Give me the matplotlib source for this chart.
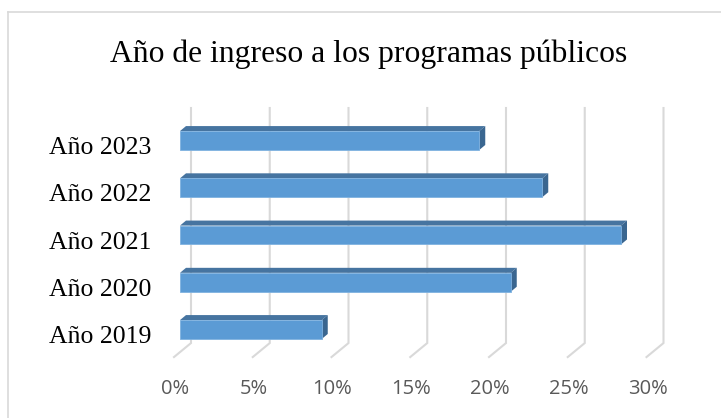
import matplotlib
matplotlib.use('Agg')
import matplotlib.pyplot as plt
from matplotlib.patches import Polygon
from matplotlib.lines import Line2D
import matplotlib.transforms as mtransforms
import numpy as np

# datos
categorias = ['Año 2019', 'Año 2020', 'Año 2021', 'Año 2022', 'Año 2023']
porcentajes = [9, 21, 28, 23, 19]
ticks_x = [0, 5, 10, 15, 20, 25, 30]
titulo = 'Año de ingreso a los programas públicos'

W, H = 721, 418
DPI = 100

# geometria (pixeles)
x0_px = 180.0          # 0% en el plano frontal de las barras
px_pct = 15.75         # pixeles por 1%
y_top_px = 116.9       # borde superior del eje
paso_px = 47.25        # separacion entre categorias
prof_x, prof_y = 6.0, 5.0   # profundidad de las barras

fig = plt.figure(figsize=(W / DPI, H / DPI), dpi=DPI)
ax_w = 30 * px_pct
ax_h = 5 * paso_px
ax = fig.add_axes([x0_px / W, 1 - (y_top_px + ax_h) / H, ax_w / W, ax_h / H])
ax.set_xlim(0, 30)
ax.set_ylim(-0.5, 4.5)
ax.axis('off')

# conversion pixel -> datos
dx = lambda px: px / px_pct
dy = lambda px: px / paso_px

y = np.arange(len(categorias))
gris = '#d9d9d9'

# rejilla (pared del fondo + piso)
y_arriba = 4.5 + dy(y_top_px - 108)
y_abajo = -0.5 + dy(353.1 - 343)
y_frente = -0.5 - dy(357 - 353.1)
for t in ticks_x:
    xb = t + dx(11)
    xf = t - dx(6)
    ax.plot([xb, xb, xf], [y_arriba, y_abajo, y_frente], color=gris,
            lw=1.5, zorder=1, clip_on=False, solid_joinstyle='miter')

# barras con efecto 3D
alto = 0.4
frente = '#5b9bd5'
arriba = '#4674a0'
lado = '#3a6690'
ax.barh(y, porcentajes, height=alto, color=frente, edgecolor='#7fb2e0',
        linewidth=0.6, zorder=3)
for yi, v in zip(y, porcentajes):
    top = yi + alto / 2
    bot = yi - alto / 2
    ax.add_patch(Polygon([[0, top], [v, top], [v + dx(prof_x), top + dy(prof_y)],
                          [dx(prof_x), top + dy(prof_y)]], closed=True,
                         facecolor=arriba, edgecolor='none', zorder=2))
    ax.add_patch(Polygon([[v, top], [v + dx(prof_x), top + dy(prof_y)],
                          [v + dx(prof_x), bot + dy(prof_y)], [v, bot]], closed=True,
                         facecolor=lado, edgecolor='none', zorder=2))

# etiquetas de categorias
off_cat = mtransforms.offset_copy(ax.transData, fig=fig, x=-29, y=-13.5, units='dots')
for yi, c in zip(y, categorias):
    ax.text(0, yi, c, transform=off_cat, ha='right', va='baseline',
            fontsize=18.5, family='Liberation Serif', color='black')

# etiquetas del eje x
y_lab = -0.5 - dy(389 - 353.1)
for t in ticks_x:
    ax.text(t - dx(5), y_lab, f'{t}%', ha='center', va='center', fontsize=14.5,
            family='Open Sans', color='#595959', clip_on=False)

# titulo
fig.text(369 / W, 1 - 62 / H, titulo, ha='center', va='baseline', fontsize=22.8,
         family='Liberation Serif', color='black')

# borde del grafico
fig.add_artist(Line2D([8 / W, 1], [1 - 12 / H, 1 - 12 / H], color=gris, lw=1.2))
fig.add_artist(Line2D([8 / W, 8 / W], [1 - 12 / H, 0], color=gris, lw=1.2))

fig.savefig('out.png', dpi=DPI, facecolor='white')
